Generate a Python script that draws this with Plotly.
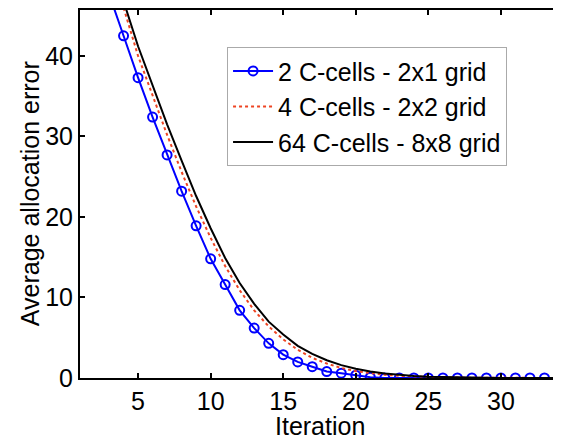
import plotly.graph_objects as go

iterations = list(range(1, 35))

err_2cells = [58.0, 53.0, 47.7, 42.5, 37.3, 32.4, 27.7, 23.2, 18.9, 14.8,
              11.6, 8.4, 6.2, 4.3, 2.9, 2.0, 1.4, 0.8, 0.6, 0.35,
              0.1, 0, 0, 0, 0, 0, 0, 0, 0, 0, 0, 0, 0, 0]

err_4cells = [59.0, 54.0, 50.5, 46.0, 40.0, 35.0, 30.2, 25.6, 21.3, 17.4,
              13.9, 10.9, 8.4, 6.4, 4.8, 3.5, 2.5, 1.8, 1.25, 0.85,
              0.58, 0.4, 0.27, 0.18, 0.12, 0.08, 0.05, 0.03, 0.02, 0.01,
              0.01, 0.01, 0.0, 0.0]

err_64cells = [60.0, 55.0, 51.0, 46.8, 41.2, 36.3, 31.5, 27.0, 22.6, 18.6,
               14.9, 11.8, 9.2, 7.0, 5.4, 4.0, 3.0, 2.2, 1.6, 1.15,
               0.8, 0.55, 0.38, 0.26, 0.17, 0.11, 0.07, 0.04, 0.02, 0.01,
               0.01, 0.01, 0.0, 0.0]

labels = ["2 C-cells - 2x1 grid", "4 C-cells - 2x2 grid", "64 C-cells - 8x8 grid"]
x_title = "Iteration"
y_title = "Average allocation error"

FONT = "Liberation Sans, Arial, sans-serif"
FS = 25

fig = go.Figure()
fig.add_trace(go.Scatter(
    x=iterations, y=err_2cells, name=labels[0], mode="lines+markers",
    line=dict(color="#0000FF", width=2),
    marker=dict(symbol="circle-open", size=9, color="#0000FF", line=dict(width=2)),
    legendgroup="a"))
fig.add_trace(go.Scatter(
    x=iterations, y=err_4cells, name=labels[1], mode="lines",
    line=dict(color="#EE4422", width=2, dash="dot"), legendgroup="b"))
fig.add_trace(go.Scatter(
    x=iterations, y=err_64cells, name=labels[2], mode="lines",
    line=dict(color="#000000", width=2), legendgroup="c"))

axis_common = dict(
    showline=True, linecolor="black", linewidth=2, mirror="ticks",
    ticks="inside", ticklen=5, tickwidth=2, tickcolor="black",
    showgrid=False, zeroline=False, automargin=False,
    tickfont=dict(family=FONT, size=FS, color="black"),
)

# page body has an 8px margin; figure is sized so the plot area lands
# at window pixels x 80..559, y 10..378
fig.update_layout(
    width=553, height=431,
    margin=dict(l=72, r=2, t=2, b=61, autoexpand=False),
    paper_bgcolor="white", plot_bgcolor="white",
    font=dict(family=FONT, size=FS, color="black"),
    xaxis=dict(range=[1, 34], tickvals=[5, 10, 15, 20, 25, 30], **axis_common),
    yaxis=dict(range=[0, 45.7], tickvals=[0, 10, 20, 30, 40], **axis_common),
    legend=dict(x=0.307, y=0.899, xanchor="left", yanchor="top",
                bgcolor="white", bordercolor="#AAAAAA", borderwidth=1,
                font=dict(family=FONT, size=25, color="black"),
                traceorder="grouped", tracegroupgap=0, itemwidth=40),
    showlegend=True,
    annotations=[
        dict(text=x_title, xref="paper", yref="paper", x=0.5, y=-0.13,
             xanchor="center", yanchor="middle", showarrow=False,
             font=dict(family=FONT, size=FS, color="black")),
        dict(text=y_title, xref="paper", yref="paper", x=-0.104, y=0.5,
             xanchor="center", yanchor="middle", textangle=-90, showarrow=False,
             font=dict(family=FONT, size=FS, color="black")),
    ],
)

fig.write_html("out.html")
